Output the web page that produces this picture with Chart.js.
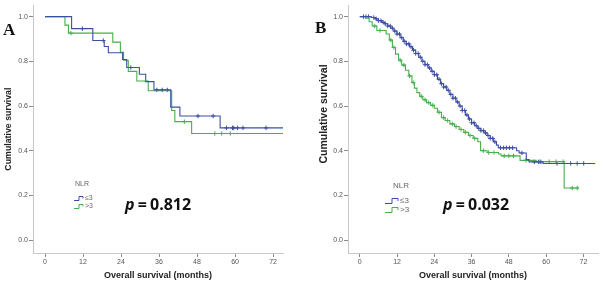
<!DOCTYPE html>
<html>
<head>
<meta charset="utf-8">
<script src="https://cdn.jsdelivr.net/npm/chart.js@4.4.1/dist/chart.umd.min.js"></script>
<style>
  body { margin: 0; background: #fff; width: 603px; height: 285px; overflow: hidden; position: relative; }
  canvas { position: absolute; top: 0; }
  #chartA { left: 0; }
  #chartB { left: 300px; }
  .tag { position: absolute; font: bold 17px "Liberation Serif", serif; color: #111; line-height: 17px; }
  .pval { position: absolute; font: bold 16px "Open Sans", sans-serif; color: #111; line-height: 16px; white-space: nowrap; word-spacing: -1px; }
  .pval i { font-style: italic; }
  .leg { position: absolute; font-family: "Liberation Sans", Arial, sans-serif; color: #666; white-space: nowrap; }
  .leg div { height: 8px; line-height: 8px; }
  .leg svg { vertical-align: middle; margin-right: 1px; }
  .ytitle { position: absolute; width: 130px; height: 12px; line-height: 12px; text-align: center; transform: rotate(-90deg);
    font: bold 10.5px "Liberation Sans", Arial, sans-serif; color: #222; white-space: nowrap; }
</style>
</head>
<body>
<canvas id="chartA" width="300" height="285"></canvas>
<canvas id="chartB" width="303" height="285"></canvas>

<div class="tag" style="left:3px;top:21px">A</div>
<div class="tag" style="left:315px;top:19px">B</div>
<div class="ytitle" style="left:258px;top:108px">Cumulative survival</div>

<div class="leg" style="left:74px;top:180px;font-size:7px">
  <div style="padding-left:1px">NLR</div>
  <div style="margin-top:6px"><svg width="10" height="5"><polyline points="0,4.5 5,4.5 5,0.5 9,0.5 9,2.5" fill="none" stroke="#3d4ea5" stroke-width="1"/></svg>≤3</div>
  <div><svg width="10" height="5"><polyline points="0,4.5 5,4.5 5,0.5 9,0.5 9,2.5" fill="none" stroke="#46b04a" stroke-width="1"/></svg>&gt;3</div>
</div>
<div class="leg" style="left:385px;top:182px;font-size:8px">
  <div style="padding-left:8px">NLR</div>
  <div style="margin-top:7px"><svg width="14" height="6"><polyline points="0,5.5 7,5.5 7,0.5 13,0.5 13,3" fill="none" stroke="#3d4ea5" stroke-width="1"/></svg>≤3</div>
  <div style="margin-top:1px"><svg width="14" height="6"><polyline points="0,5.5 7,5.5 7,0.5 13,0.5 13,3" fill="none" stroke="#46b04a" stroke-width="1"/></svg>&gt;3</div>
</div>

<div class="pval" style="left:125px;top:196px"><i>p</i> = 0.812</div>
<div class="pval" style="left:443px;top:196px"><i>p</i> = 0.032</div>

<script>
// panel A, NLR <= 3 (blue) and > 3 (green): event times (months) and survival after each step
const blueA_t = [0, 8.4, 15.1, 18.7, 20.0, 24.5, 25.8, 29.8, 31.8, 34.4, 39.7, 42.6, 55.3, 75.2];
const blueA_s = [1, 0.946, 0.893, 0.866, 0.838, 0.808, 0.772, 0.742, 0.709, 0.672, 0.595, 0.555, 0.502, 0.502];
const blueA_cens = [11.8, 18.4, 27.1, 35.3, 37.0, 38.6, 48.3, 53.1, 57.3, 59.2, 59.6, 60.8, 62.5, 69.8];

const greenA_t = [0, 6.3, 7.4, 21.4, 23.8, 24.8, 26.3, 29.0, 32.6, 40.0, 41.0, 46.3, 75.2];
const greenA_s = [1, 0.962, 0.926, 0.886, 0.84, 0.805, 0.755, 0.712, 0.668, 0.58, 0.53, 0.477, 0.477];
const greenA_cens = [8.2, 44.0, 53.6, 55.8, 58.5];

// panel B
const blueB_t = [0, 3.7, 5, 6, 7, 8, 9, 10, 11, 12, 13, 14, 15, 16, 17, 18, 19, 20, 21, 22, 23, 24, 25, 26, 27, 28, 29, 30,
  31, 32, 33, 34, 35, 36, 37, 38, 39, 40, 41, 42, 43, 44, 44.6, 50.5, 51.3, 53.6, 54.5, 59.0, 75.8];
const blueB_s = [1, 0.996, 0.99, 0.982, 0.975, 0.968, 0.958, 0.948, 0.935, 0.922, 0.906, 0.89, 0.878, 0.865, 0.85, 0.835,
  0.818, 0.80, 0.785, 0.77, 0.755, 0.74, 0.72, 0.70, 0.685, 0.67, 0.652, 0.635, 0.618, 0.60, 0.58, 0.56, 0.542, 0.525,
  0.512, 0.50, 0.49, 0.48, 0.468, 0.455, 0.44, 0.425, 0.413, 0.40, 0.39, 0.36, 0.35, 0.343, 0.343];
const blueB_cens = [1.2, 2, 2.8, 4.5, 5.3, 6, 6.8, 7.5, 8.2, 9, 9.8, 10.5, 11.3, 12, 12.8, 13.5, 14.3, 15, 15.8, 16.5,
  17.3, 18, 18.8, 19.5, 20.3, 21, 21.8, 22.5, 23.3, 24, 24.8, 25.5, 26.3, 27, 27.8, 28.5, 29.3, 30, 30.8, 31.5, 32.3, 33,
  33.8, 34.5, 35.3, 36, 36.8, 37.5, 38.3, 39, 39.8, 40.5, 41.3, 42, 42.8, 43.5, 45.3, 46.3, 47.2, 48.2, 49.2, 52.2, 56.2,
  57.5, 58.3, 63.5, 67.9, 70.0, 72.1];

const greenB_t = [0, 2, 3, 4, 5.5, 8.5, 9.5, 10.5, 11.5, 12.5, 13.5, 14.7, 15.8, 16.8, 17.6, 18.4, 19.3, 20.3, 21.5, 22.8,
  24, 25, 26.3, 27.5, 29, 30.5, 32, 33.5, 35, 36.5, 38, 38.9, 41, 44.7, 45.5, 51.6, 56.8, 65.8, 70.5];
const greenB_s = [1, 0.993, 0.977, 0.958, 0.938, 0.922, 0.895, 0.862, 0.832, 0.805, 0.783, 0.76, 0.735, 0.705, 0.68, 0.66,
  0.643, 0.628, 0.615, 0.603, 0.59, 0.572, 0.548, 0.535, 0.52, 0.508, 0.495, 0.482, 0.468, 0.455, 0.44, 0.40, 0.392,
  0.385, 0.377, 0.357, 0.351, 0.233, 0.233];
const greenB_cens = [4.8, 6.5, 10, 11, 13, 14.2, 16, 17.2, 19.8, 21, 22.2, 23.5, 25.5, 27, 28.3, 29.8, 31, 32.6, 34, 35.5,
  37, 39.8, 41.5, 43.2, 46.5, 48, 49.5, 53.5, 58, 61, 63.2, 65.5, 68.4, 70.0];

const xTicks = [0, 12, 24, 36, 48, 60, 72];
const yTicks = [0, 0.2, 0.4, 0.6, 0.8, 1.0];

const BLUE = "#3d4ea5";
const GREEN = "#46b04a";

const steps = (ts, ss) => ts.map((t, i) => ({ x: t, y: ss[i] }));

// survival level of the curve at a censoring time
const levelAt = (ts, ss, t) => {
  let v = ss[0];
  for (let i = 0; i < ts.length; i++) if (ts[i] <= t) v = ss[i];
  return v;
};
const marks = (ts, ss, cens) => cens.map((t) => ({ x: t, y: levelAt(ts, ss, t) }));

const lineSet = (data, color) => ({
  data: data,
  borderColor: color,
  borderWidth: 1.1,
  stepped: "before",
  pointRadius: 0,
  fill: false,
});
const censSet = (data, color) => ({
  data: data,
  showLine: false,
  borderColor: color,
  backgroundColor: color,
  borderWidth: 1,
  pointStyle: "cross",
  pointRadius: 2.2,
});

function build(id, sets, opt) {
  return new Chart(document.getElementById(id), {
    type: "line",
    data: { datasets: sets },
    options: {
      responsive: false,
      animation: false,
      devicePixelRatio: 1,
      layout: { padding: { top: 3, right: opt.padRight, left: 0, bottom: 0 } },
      plugins: { legend: { display: false }, tooltip: { enabled: false } },
      scales: {
        x: {
          type: "linear",
          min: -3.79,
          max: opt.xMax,
          afterBuildTicks: (s) => { s.ticks = xTicks.map((v) => ({ value: v })); },
          afterFit: (s) => { s.height = 32; },
          border: { display: true, color: "#c9c9c9", width: 1 },
          grid: { drawOnChartArea: false, drawTicks: true, tickLength: 4, tickColor: "#8a8a8a" },
          ticks: { color: "#555", padding: 1, maxRotation: 0, font: { family: "Liberation Sans", size: 7 } },
          title: {
            display: true,
            text: "Overall survival (months)",
            color: "#222",
            font: { family: "Liberation Sans", size: 9, weight: "bold" },
            padding: { top: 0, bottom: 3.6 },
          },
        },
        y: {
          min: -0.0576,
          max: 1.051,
          afterBuildTicks: (s) => { s.ticks = yTicks.map((v) => ({ value: v })); },
          afterFit: (s) => { s.width = opt.yWidth; },
          border: { display: true, color: "#c9c9c9", width: 1 },
          grid: { drawOnChartArea: false, drawTicks: true, tickLength: 4, tickColor: "#8a8a8a" },
          ticks: {
            color: "#555",
            padding: 1,
            font: { family: "Liberation Sans", size: 7 },
            callback: (v) => v.toFixed(1),
          },
          title: {
            display: opt.yTitle,
            text: "Cumulative survival",
            color: "#222",
            font: { family: "Liberation Sans", size: 8.8, weight: "bold" },
            padding: { top: 3.7, bottom: 0 },
          },
        },
      },
    },
  });
}

build("chartA", [
  lineSet(steps(blueA_t, blueA_s), BLUE),
  lineSet(steps(greenA_t, greenA_s), GREEN),
  censSet(marks(blueA_t, blueA_s, blueA_cens), BLUE),
  censSet(marks(greenA_t, greenA_s, greenA_cens), GREEN),
], { padRight: 17, xMax: 75.15, yWidth: 33, yTitle: true });

// panel B's axis title sits higher than centre, so it is placed as a div above
build("chartB", [
  lineSet(steps(blueB_t, blueB_s), BLUE),
  lineSet(steps(greenB_t, greenB_s), GREEN),
  censSet(marks(blueB_t, blueB_s, blueB_cens), BLUE),
  censSet(marks(greenB_t, greenB_s, greenB_cens), GREEN),
], { padRight: 0, xMax: 76.7, yWidth: 48, yTitle: false });
</script>
</body>
</html>
